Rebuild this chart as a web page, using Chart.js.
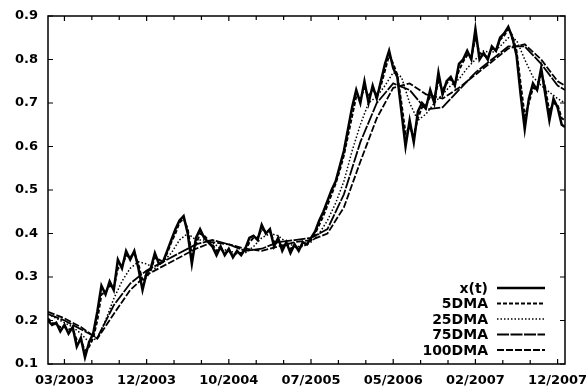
<!DOCTYPE html>
<html>
<head>
<meta charset="utf-8">
<script src="https://cdn.jsdelivr.net/npm/chart.js@4.4.1/dist/chart.umd.min.js"></script>
<style>
  html, body { margin: 0; padding: 0; background: #fff; }
  #chart { display: block; }
</style>
</head>
<body>
<canvas id="chart" width="586" height="387"></canvas>
<script>
// trading day index (0 = 03/2003), one sample every 10 days
var days = [-40, -30, -20, -10, 0, 10, 20, 30, 40, 50, 60, 70, 80, 90, 100, 110, 120, 130, 140, 150,
    160, 170, 180, 190, 200, 210, 220, 230, 240, 250, 260, 270, 280, 290, 300, 310, 320, 330, 340, 350,
    360, 370, 380, 390, 400, 410, 420, 430, 440, 450, 460, 470, 480, 490, 500, 510, 520, 530, 540, 550,
    560, 570, 580, 590, 600, 610, 620, 630, 640, 650, 660, 670, 680, 690, 700, 710, 720, 730, 740, 750,
    760, 770, 780, 790, 800, 810, 820, 830, 840, 850, 860, 870, 880, 890, 900, 910, 920, 930, 940, 950,
    960, 970, 980, 990, 1000, 1010, 1020, 1030, 1040, 1050, 1060, 1070, 1080, 1090, 1100, 1110, 1120,
    1130, 1140, 1150, 1160, 1170, 1180, 1190, 1200, 1210, 1218];

var xt = [0.20, 0.19, 0.195, 0.175, 0.19, 0.17, 0.185, 0.14, 0.16, 0.115, 0.15, 0.17, 0.22, 0.28, 0.26,
    0.29, 0.27, 0.34, 0.32, 0.36, 0.34, 0.36, 0.32, 0.27, 0.31, 0.32, 0.355, 0.33, 0.335, 0.36, 0.385,
    0.41, 0.43, 0.44, 0.40, 0.33, 0.39, 0.41, 0.39, 0.38, 0.37, 0.35, 0.37, 0.35, 0.365, 0.345, 0.36,
    0.35, 0.365, 0.39, 0.395, 0.385, 0.42, 0.40, 0.41, 0.37, 0.39, 0.36, 0.38, 0.355, 0.375, 0.36, 0.38,
    0.375, 0.39, 0.405, 0.43, 0.45, 0.475, 0.50, 0.52, 0.555, 0.59, 0.64, 0.69, 0.73, 0.70, 0.75, 0.70,
    0.74, 0.71, 0.75, 0.79, 0.82, 0.78, 0.76, 0.68, 0.60, 0.66, 0.61, 0.68, 0.70, 0.69, 0.73, 0.70, 0.77,
    0.72, 0.75, 0.76, 0.74, 0.79, 0.80, 0.82, 0.80, 0.87, 0.80, 0.815, 0.80, 0.83, 0.82, 0.85, 0.86, 0.875,
    0.85, 0.81, 0.72, 0.64, 0.71, 0.745, 0.73, 0.78, 0.72, 0.66, 0.71, 0.69, 0.65, 0.645];

var dma5 = [0.205, 0.195, 0.19, 0.185, 0.185, 0.18, 0.18, 0.155, 0.155, 0.13, 0.14, 0.16, 0.20, 0.26,
    0.265, 0.28, 0.275, 0.32, 0.325, 0.35, 0.345, 0.355, 0.33, 0.29, 0.30, 0.315, 0.345, 0.34, 0.335,
    0.355, 0.38, 0.40, 0.425, 0.435, 0.41, 0.35, 0.375, 0.40, 0.395, 0.385, 0.375, 0.36, 0.365, 0.355,
    0.36, 0.35, 0.355, 0.355, 0.36, 0.38, 0.39, 0.39, 0.41, 0.405, 0.405, 0.38, 0.385, 0.37, 0.375, 0.365,
    0.37, 0.365, 0.375, 0.375, 0.385, 0.40, 0.42, 0.44, 0.465, 0.49, 0.515, 0.545, 0.58, 0.625, 0.67,
    0.715, 0.71, 0.735, 0.715, 0.73, 0.72, 0.74, 0.775, 0.81, 0.79, 0.765, 0.70, 0.63, 0.645, 0.625,
    0.665, 0.69, 0.695, 0.715, 0.71, 0.75, 0.73, 0.745, 0.755, 0.745, 0.775, 0.795, 0.81, 0.805, 0.85,
    0.815, 0.81, 0.805, 0.825, 0.82, 0.845, 0.855, 0.87, 0.855, 0.82, 0.745, 0.67, 0.70, 0.735, 0.73,
    0.77, 0.735, 0.68, 0.70, 0.695, 0.665, 0.66];

var days25 = [-40, -20, 0, 20, 40, 60, 80, 100, 120, 140, 160, 180, 200, 220, 240, 260, 280, 300, 320,
    340, 360, 380, 400, 420, 440, 460, 480, 500, 520, 540, 560, 580, 600, 620, 640, 660, 680, 700, 720,
    740, 760, 780, 800, 820, 840, 860, 880, 900, 920, 940, 960, 980, 1000, 1020, 1040, 1060, 1080, 1100,
    1120, 1140, 1160, 1180, 1200, 1218];
var dma25 = [0.215, 0.205, 0.195, 0.185, 0.17, 0.15, 0.16, 0.20, 0.25, 0.29, 0.32, 0.335, 0.33, 0.32,
    0.335, 0.355, 0.385, 0.40, 0.385, 0.385, 0.38, 0.365, 0.36, 0.355, 0.355, 0.37, 0.39, 0.40, 0.395,
    0.38, 0.37, 0.37, 0.38, 0.40, 0.43, 0.47, 0.52, 0.59, 0.65, 0.70, 0.715, 0.74, 0.77, 0.76, 0.70,
    0.66, 0.675, 0.70, 0.72, 0.74, 0.755, 0.78, 0.80, 0.82, 0.815, 0.83, 0.85, 0.845, 0.80, 0.76, 0.74,
    0.725, 0.71, 0.70];

var daysLong = [-40, 0, 40, 80, 120, 160, 200, 240, 280, 320, 360, 400, 440, 480, 520, 560, 600, 640,
    680, 720, 760, 800, 840, 880, 920, 960, 1000, 1040, 1080, 1120, 1160, 1200, 1218];
var dma75 = [0.215, 0.20, 0.18, 0.16, 0.235, 0.285, 0.315, 0.335, 0.355, 0.375, 0.385, 0.375, 0.36,
    0.365, 0.38, 0.385, 0.39, 0.41, 0.49, 0.61, 0.70, 0.745, 0.73, 0.685, 0.69, 0.73, 0.77, 0.80, 0.83,
    0.83, 0.79, 0.74, 0.73];
var dma100 = [0.22, 0.205, 0.185, 0.158, 0.215, 0.27, 0.305, 0.325, 0.345, 0.365, 0.38, 0.375, 0.365,
    0.36, 0.37, 0.38, 0.385, 0.40, 0.46, 0.565, 0.665, 0.735, 0.745, 0.72, 0.71, 0.735, 0.765, 0.795,
    0.825, 0.835, 0.80, 0.75, 0.74];

var tickDays = [0, 200, 400, 600, 800, 1000, 1200];
var tickLabels = ["03/2003", "12/2003", "10/2004", "07/2005", "05/2006", "02/2007", "12/2007"];

function pts(xs, ys) {
    return xs.map(function (d, i) { return { x: d, y: ys[i] }; });
}

var tickFont = { family: "DejaVu Sans", weight: "bold", size: 13 };

// box, inward tick marks and the legend in the lower right corner
var frameAndLegend = {
    id: "frameAndLegend",
    afterDraw: function (chart) {
        var ctx = chart.ctx;
        var a = chart.chartArea;
        var xs = chart.scales.x;
        var ys = chart.scales.y;
        ctx.save();
        ctx.strokeStyle = "#000";
        ctx.lineWidth = 1.5;
        ctx.strokeRect(a.left, a.top, a.right - a.left, a.bottom - a.top);

        ctx.lineWidth = 1.2;
        ctx.beginPath();
        ys.ticks.forEach(function (t) {
            var p = ys.getPixelForValue(t.value);
            ctx.moveTo(a.left, p); ctx.lineTo(a.left + 5, p);
            ctx.moveTo(a.right, p); ctx.lineTo(a.right - 5, p);
        });
        for (var i = 0; i < tickDays.length; i++) {
            var p = xs.getPixelForValue(tickDays[i]);
            ctx.moveTo(p, a.bottom); ctx.lineTo(p, a.bottom - 5);
            ctx.moveTo(p, a.top); ctx.lineTo(p, a.top + 5);
            if (i < tickDays.length - 1) {
                var step = (tickDays[i + 1] - tickDays[i]) / 3;
                for (var j = 1; j < 3; j++) {
                    var q = xs.getPixelForValue(tickDays[i] + step * j);
                    ctx.moveTo(q, a.bottom); ctx.lineTo(q, a.bottom - 4);
                    ctx.moveTo(q, a.top); ctx.lineTo(q, a.top + 4);
                }
            }
        }
        ctx.stroke();

        // legend
        ctx.font = "bold 14px 'DejaVu Sans'";
        ctx.textAlign = "right";
        ctx.textBaseline = "middle";
        ctx.fillStyle = "#000";
        var rowY = [288, 303.5, 319, 334.5, 350];
        chart.data.datasets.forEach(function (ds, k) {
            var y = rowY[k];
            ctx.fillText(ds.label, 488, y + 1);
            ctx.lineWidth = ds.borderWidth;
            ctx.setLineDash(ds.borderDash || []);
            ctx.beginPath();
            ctx.moveTo(497, y);
            ctx.lineTo(545, y);
            ctx.stroke();
        });
        ctx.setLineDash([]);
        ctx.restore();
    }
};

var chart = new Chart(document.getElementById("chart").getContext("2d"), {
    type: "line",
    data: {
        datasets: [
            { label: "x(t)", data: pts(days, xt), borderColor: "#000", borderWidth: 2.5 },
            { label: "5DMA", data: pts(days, dma5), borderColor: "#000", borderWidth: 2, borderDash: [4, 2] },
            { label: "25DMA", data: pts(days25, dma25), borderColor: "#000", borderWidth: 1.5, borderDash: [1.5, 2] },
            { label: "75DMA", data: pts(daysLong, dma75), borderColor: "#000", borderWidth: 1.8, borderDash: [12, 1.5] },
            { label: "100DMA", data: pts(daysLong, dma100), borderColor: "#000", borderWidth: 1.8, borderDash: [7, 2] }
        ]
    },
    options: {
        responsive: false,
        animation: false,
        parsing: false,
        elements: { point: { radius: 0 }, line: { tension: 0, fill: false } },
        layout: { padding: { top: 16, right: 21, left: 0, bottom: 0 } },
        plugins: { legend: { display: false }, tooltip: { enabled: false } },
        scales: {
            x: {
                type: "linear",
                min: -40,
                max: 1218,
                grid: { display: false, drawTicks: false },
                border: { display: false },
                afterBuildTicks: function (scale) {
                    scale.ticks = tickDays.map(function (v) { return { value: v }; });
                },
                afterFit: function (scale) {
                    scale.height = 23;
                    scale.paddingLeft = 0;
                    scale.paddingRight = 0;
                },
                ticks: {
                    color: "#000",
                    font: tickFont,
                    padding: 9,
                    maxRotation: 0,
                    autoSkip: false,
                    callback: function (v) {
                        var i = tickDays.indexOf(v);
                        return i >= 0 ? tickLabels[i] : "";
                    }
                }
            },
            y: {
                min: 0.1,
                max: 0.9,
                grid: { display: false, drawTicks: false },
                border: { display: false },
                afterFit: function (scale) {
                    scale.width = 48;
                    scale.paddingTop = 0;
                    scale.paddingBottom = 0;
                },
                ticks: {
                    stepSize: 0.1,
                    color: "#000",
                    font: tickFont,
                    padding: 10,
                    callback: function (v) { return v.toFixed(1); }
                }
            }
        }
    },
    plugins: [frameAndLegend]
});
</script>
</body>
</html>
